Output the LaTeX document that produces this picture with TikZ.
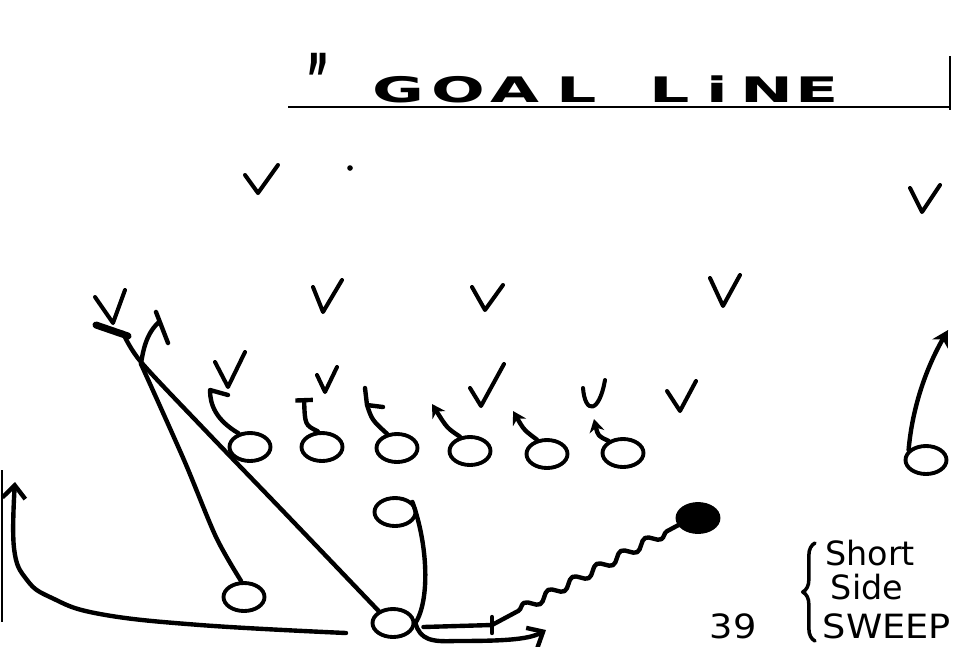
\documentclass[tikz,border=0pt]{standalone}
\usepackage{fontspec}
\setmainfont{DejaVu Sans}
\usetikzlibrary{shapes.geometric,arrows.meta,decorations.pathmorphing,decorations.pathreplacing}
\begin{document}
\begin{tikzpicture}[x=0.02cm, y=-0.02cm,
    player/.style={draw, ellipse, line width=2.2pt, minimum width=0.82cm, minimum height=0.56cm, inner sep=0pt},
    route/.style={line width=2.5pt, line cap=round, line join=round},
    defv/.style={line width=2.3pt, line cap=round, line join=round},
    run/.style={route, -{Straight Barb[length=2.6mm, width=4.6mm]}},
    knob/.style={route, -{Stealth[length=2.6mm, width=3mm]}},
    block/.style={route, -{Bar[width=3.5mm]}},
    goal/.style={font=\fontsize{20}{20}\selectfont\bfseries, inner sep=0pt, anchor=base},
    note/.style={font=\fontsize{19}{19}\selectfont, inner sep=0pt, anchor=base}]
    \useasboundingbox (0,0) rectangle (956,646);

    \node[goal] (ditto) at (318,104) {\scalebox{1}[2]{"}};
    \foreach \x/\c [count=\i] in {398/G,458/O,515/A,577/L,670/L,717/i,767/N,817/E}
        \node[goal] (g\i) at (\x,102) {\scalebox{1.8}[1]{\c}};
    \draw[line width=1.6pt] (288,107) -- (950,107);
    \draw[line width=1.6pt] (950,56) -- (950,110);
    \draw[line width=1.2pt] (2,470) -- (2,622);

    \foreach \x/\y/\a/\b/\c/\d in {258/193/13/18/20/28, 922/212/12/24/18/27, 323/312/10/25/19/32,
        485/310/13/23/18/25, 723/306/13/28/17/31, 113/323/18/26/12/33, 228/387/13/25/17/35,
        325/392/8/17/12/25, 481/406/11/18/23/42, 680/411/13/20/16/30}
        \draw[defv] (\x-\a,\y-\b) -- (\x,\y) -- (\x+\c,\y-\d);
    \draw[defv] (583,388) .. controls (585,414) and (599,414) .. (605,380);
    \fill (350,168) circle (1.6pt);

    \foreach \x/\y [count=\i] in {250/447,322/447,397/448,470/451,547/454,623/453}
        \node[player] (l\i) at (\x,\y) {};
    \node[player] (te) at (926,460) {};
    \node[player] (qb) at (395,512) {};
    \node[player] (tb) at (393,623) {};
    \node[player] (lb) at (244,597) {};
    \node[player, fill=black] (ball) at (698,518) {};

    \draw[route] (l1.130) .. controls (216,420) and (210,405) .. (210,390) -- (228,395);
    \draw[block] (l2.105) .. controls (305,425) .. (304,398);
    \draw[route] (l3.125) .. controls (372,420) .. (367,405) -- (365,388) (367,405) -- (383,407);
    \draw[knob] (l4.125) .. controls (447,428) .. (432,404);
    \draw[knob] (l5.125) .. controls (524,430) .. (513,411);
    \draw[knob] (l6.140) .. controls (598,436) .. (594,419);
    \draw[route, -{Stealth[length=3.2mm, width=3.6mm]}] (te.150) .. controls (912,410) and (925,370) .. (948,330);

    \coordinate (fork) at (141,364);
    \draw[route] plot[smooth] coordinates {(tb.140) (282,510) (205,430) (141,362) (123,333)};
    \draw[route, line width=4pt] (128,336) -- (96,325);
    \draw[route] plot[smooth] coordinates {(lb.100) (216,537) (184,460) (fork)};
    \draw[route] (fork) .. controls (144,342) and (150,330) .. (159,322) (156,312) -- (168,343);

    \draw[run] plot[smooth, tension=0.7] coordinates {(346,633) (200,625) (100,614) (52,598) (27,580) (14,548) (15,482)};
    \draw[run] (qb.30) .. controls (428,545) and (430,600) .. (tb.east) .. controls (420,640) and (432,642) .. (455,641) .. controls (500,641) and (528,640) .. (546,630);

    \coordinate (mesh) at (492,625);
    \draw[route] (tb.east) ++(8,4) -- (mesh);
    \draw[route] (mesh) ++(0,-8) -- ++(0,16);
    \draw[route, decorate, decoration={snake, amplitude=2.5pt, segment length=0.55cm, pre length=0.6cm, post length=0.25cm}] (mesh) -- (ball.200);

    \node[note] (num) at (733,638) {\scalebox{1.1}[1]{39}};
    \node[note] (short) at (870,565) {Short};
    \node[note] (side) at (867,599) {Side};
    \node[note] (sweep) at (887,638) {\scalebox{1.1}[1]{SWEEP}};
    \draw[route, line width=2pt, decorate, decoration={brace, amplitude=7pt}] (815,641) -- (815,543);
\end{tikzpicture}
\end{document}
